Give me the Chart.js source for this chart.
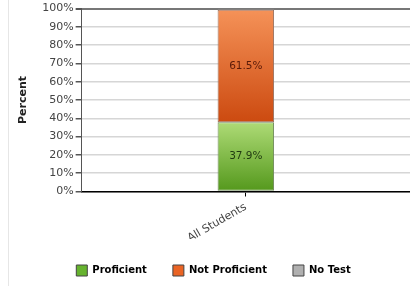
<!DOCTYPE html>
<html>
<head>
<meta charset="utf-8">
<style>
  html, body { margin: 0; padding: 0; background: #fff; }
  #wrap { position: relative; width: 410px; height: 286px; }
  #wrap::before {
    content: ''; position: absolute; left: 8px; top: 0; bottom: 0;
    width: 1px; background: #e6e6e6;
  }
  canvas { position: relative; }
</style>
<script src="https://cdn.jsdelivr.net/npm/chart.js@4.4.1/dist/chart.umd.min.js"></script>
</head>
<body>
<div id="wrap"><canvas id="chart" width="410" height="286"></canvas></div>
<script>
const categories = ['All Students'];
const seriesNames = ['Proficient', 'Not Proficient', 'No Test'];
const proficient = [37.9];
const notProficient = [61.5];
const noTest = [0.6];
const yTicks = [0, 10, 20, 30, 40, 50, 60, 70, 80, 90, 100];

const FONT = '"DejaVu Sans", Verdana, sans-serif';

// top / bottom colours of each segment gradient, plus the legend swatch colour
const palette = [
  { top: '#aedb76', bottom: '#54981c', swatch: '#66b32e', border: '#6f8a5a', text: '#1f3a10' },
  { top: '#f59258', bottom: '#cc4a10', swatch: '#ea6424', border: '#9a7260', text: '#5a1a08' },
  { top: '#d0d0d0', bottom: '#9a9a9a', swatch: '#b0b0b0', border: '#888', text: '#333' },
];

function segmentGradient(i) {
  return (ctx) => {
    const chart = ctx.chart;
    const area = chart.chartArea;
    if (!area || ctx.type !== 'data') return palette[i].swatch;
    const y = chart.scales.y;
    const start = chart.data.datasets.slice(0, ctx.datasetIndex)
      .reduce((s, d) => s + d.data[ctx.dataIndex], 0);
    const top = y.getPixelForValue(start + ctx.raw);
    const bottom = y.getPixelForValue(start);
    if (!isFinite(top) || !isFinite(bottom) || top === bottom) return palette[i].swatch;
    const g = chart.ctx.createLinearGradient(0, top, 0, bottom);
    g.addColorStop(0, palette[i].top);
    g.addColorStop(1, palette[i].bottom);
    return g;
  };
}

const valueLabels = {
  id: 'valueLabels',
  afterDatasetsDraw(chart) {
    const { ctx } = chart;
    ctx.save();
    ctx.font = '10.5px ' + FONT;
    ctx.textAlign = 'center';
    ctx.textBaseline = 'middle';
    chart.data.datasets.forEach((ds, di) => {
      const meta = chart.getDatasetMeta(di);
      meta.data.forEach((bar, i) => {
        const v = ds.data[i];
        if (v < 5) return;
        const p = bar.getProps(['x', 'y', 'base'], true);
        ctx.fillStyle = palette[di].text;
        ctx.fillText(v.toFixed(1) + '%', p.x, (p.y + p.base) / 2);
      });
    });
    ctx.restore();
  },
};

const seriesData = [proficient, notProficient, noTest];

new Chart(document.getElementById('chart'), {
  type: 'bar',
  data: {
    labels: categories,
    datasets: seriesNames.map((name, i) => ({
      label: name,
      data: seriesData[i],
      backgroundColor: segmentGradient(i),
      borderColor: palette[i].border,
      borderWidth: 1,
      borderSkipped: false,
      barPercentage: 0.215,
      categoryPercentage: 0.8,
    })),
  },
  options: {
    responsive: false,
    animation: false,
    layout: { padding: { left: 17, right: 0, top: 7, bottom: 0 } },
    plugins: {
      tooltip: { enabled: false },
      legend: {
        position: 'bottom',
        labels: {
          boxWidth: 11,
          boxHeight: 11,
          padding: 26,
          color: '#222',
          font: { family: FONT, size: 10, weight: 'bold' },
          generateLabels: () => seriesNames.map((name, i) => ({
            text: name,
            fillStyle: palette[i].swatch,
            strokeStyle: '#444',
            lineWidth: 1,
            datasetIndex: i,
          })),
        },
      },
    },
    scales: {
      x: {
        stacked: true,
        afterFit: (axis) => { axis.height -= 10; },
        grid: { drawOnChartArea: false, offset: false, tickLength: 5, color: '#000' },
        border: { color: '#000', width: 1.5 },
        ticks: {
          color: '#444',
          font: { family: FONT, size: 11 },
          minRotation: 30,
          maxRotation: 30,
          padding: 4,
        },
      },
      y: {
        stacked: true,
        min: 0,
        max: 100,
        afterBuildTicks: (axis) => { axis.ticks = yTicks.map((v) => ({ value: v })); },
        grid: {
          color: (c) => (c.tick && c.tick.value === 100 ? '#777' : '#d6d6d6'),
          lineWidth: (c) => (c.tick && c.tick.value === 100 ? 2 : 1.5),
          tickColor: '#555',
          tickLength: 6,
        },
        border: { color: '#555', width: 1 },
        ticks: {
          color: '#444',
          font: { family: FONT, size: 11 },
          padding: 2,
          callback: (v) => v + '%',
        },
        title: {
          display: true,
          text: 'Percent',
          color: '#222',
          font: { family: FONT, size: 11, weight: 'bold' },
          padding: { top: 0, bottom: 10 },
        },
      },
    },
  },
  plugins: [valueLabels],
});
</script>
</body>
</html>
